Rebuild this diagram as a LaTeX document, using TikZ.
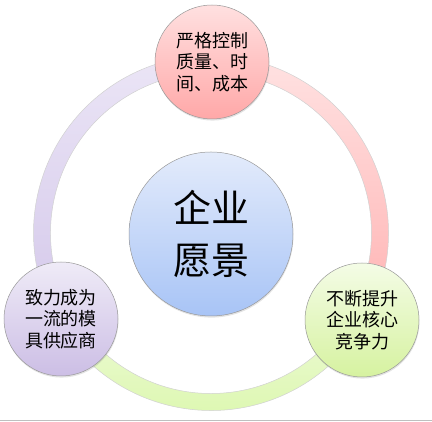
\documentclass[tikz,border=0pt]{standalone}
\usepackage{fontspec}
\newfontfamily\cjk{Noto Sans CJK SC}
\usetikzlibrary{shadows}
\definecolor{pinkT}{HTML}{FFE0E0}
\definecolor{pinkB}{HTML}{FFA8A8}
\definecolor{lavT}{HTML}{EFEBF7}
\definecolor{lavB}{HTML}{CCBEE5}
\definecolor{grnT}{HTML}{F4FCE6}
\definecolor{grnB}{HTML}{D6F2A0}
\definecolor{bluT}{HTML}{E3EBFB}
\definecolor{bluB}{HTML}{A8C4F6}
\definecolor{rpinkT}{HTML}{FFE2E2}
\definecolor{rpinkB}{HTML}{FFB2B2}
\definecolor{rlavT}{HTML}{EBE5F6}
\definecolor{rlavB}{HTML}{D4C8EA}
\definecolor{rgrnT}{HTML}{EDFAD6}
\definecolor{rgrnB}{HTML}{DAF7AA}
\tikzset{
  ball/.style={circle, inner sep=0pt, draw=black!40, line width=0.5pt,
    drop shadow={opacity=0.22, shadow xshift=0.5pt, shadow yshift=-1.6pt},
    align=center, text=black},
  smallball/.style={ball, minimum size=114pt, font=\cjk\fontsize{18}{21.5}\selectfont},
  bigball/.style={ball, minimum size=164pt, font=\cjk\fontsize{38}{52}\selectfont},
  ringseg/.style={draw=black!18, line width=0.5pt}
}
\begin{document}
\begin{tikzpicture}[x=1pt,y=1pt]
\useasboundingbox (0,0) rectangle (432,422);
\coordinate (C) at (211,189);
% ring segments
\begin{scope}[shift={(C)}]
  \shade[ringseg, top color=rpinkT, bottom color=rpinkB]
    (-30:177.5) arc[start angle=-30, end angle=90, radius=177.5]
    -- (90:160.5) arc[start angle=90, end angle=-30, radius=160.5] -- cycle;
  \shade[ringseg, top color=rlavT, bottom color=rlavB]
    (90:177.5) arc[start angle=90, end angle=210, radius=177.5]
    -- (210:160.5) arc[start angle=210, end angle=90, radius=160.5] -- cycle;
  \shade[ringseg, top color=rgrnT, bottom color=rgrnB]
    (210:177.5) arc[start angle=210, end angle=330, radius=177.5]
    -- (330:160.5) arc[start angle=330, end angle=210, radius=160.5] -- cycle;
\end{scope}
% circles
\node[bigball, top color=bluT, bottom color=bluB] (core) at (211,188) {企业\\愿景};
\node[smallball, top color=pinkT, bottom color=pinkB] (top) at (212,360) {严格控制\\质量、时\\间、成本};
\node[smallball, top color=lavT, bottom color=lavB] (left) at (61,103) {致力成为\\一流的模\\具供应商};
\node[smallball, top color=grnT, bottom color=grnB] (right) at (362,102) {不断提升\\企业核心\\竞争力};
% bottom border line
\coordinate (bl) at (0,1.3);
\coordinate (br) at (432,1.3);
\draw[black!25, line width=1pt] (bl) -- (br);
\end{tikzpicture}
\end{document}
